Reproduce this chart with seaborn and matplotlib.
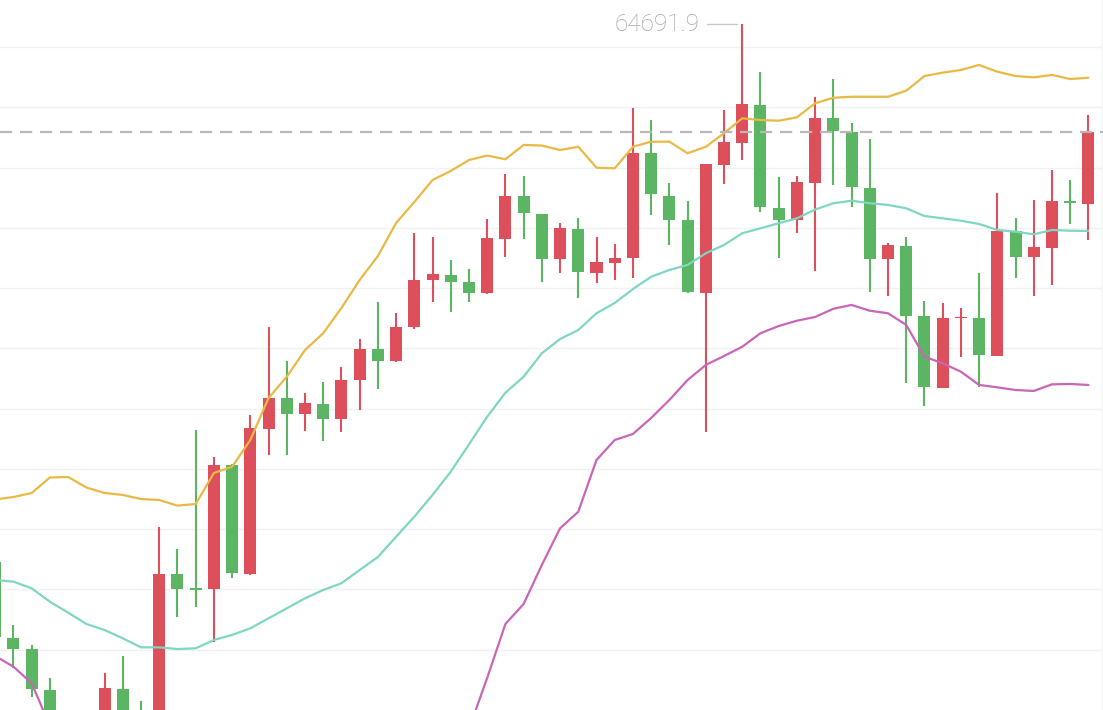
import numpy as np
import pandas as pd
import matplotlib
matplotlib.use("Agg")
import matplotlib.pyplot as plt
import seaborn as sns

# ---- candle data (price) ----
opens = [60227, 59599, 59505, 59165, 58792, 58501, 58294, 59173, 58750, 58620,
         60125, 60012, 60006, 61033, 60125, 61331, 61589, 61456, 61539, 61412,
         61738, 61995, 61893, 62175, 62568, 62610, 62549, 62458, 62908, 63265,
         63113, 62740, 62994, 62629, 62712, 62748, 63620, 63268, 63066, 62463,
         63523, 63708, 64021, 63163, 63066, 63376, 63910, 63794, 63334, 62742,
         62853, 62269, 61674, 62250, 62255, 61940, 62975, 62756, 62831, 63220,
         63199]
closes = [59605, 59505, 59173, 58792, 58501, 58294, 59182, 58750, 58620, 60128,
          60003, 59999, 61035, 60136, 61340, 61589, 61456, 61547, 61414, 61738,
          61995, 61898, 62180, 62568, 62615, 62554, 62463, 62914, 63268, 63122,
          62742, 63000, 62634, 62715, 62748, 63618, 63279, 63066, 62466, 63528,
          63711, 64026, 63171, 63066, 63379, 63913, 63805, 63337, 62742, 62859,
          62273, 61682, 62255, 62263, 61946, 62975, 62761, 62839, 63226, 63205,
          63799]
highs = [60286, 59705, 59539, 59265, 58958, 58875, 59306, 59447, 59074, 60518,
         60335, 61323, 61101, 61040, 61448, 62180, 61898, 61633, 61724, 61848,
         62078, 62388, 62294, 62956, 62927, 62734, 62657, 63072, 63448, 63431,
         63118, 63039, 63080, 62922, 62864, 63993, 63896, 63371, 63226, 63532,
         63979, 64691.9, 64297, 63425, 63431, 64089, 64234, 63869, 63736, 62873,
         62921, 62396, 62375, 62333, 62624, 63288, 63085, 63232, 63481, 63398,
         63938]
lows = [59538, 59348, 59107, 58667, 58335, 58169, 58252, 58667, 58560, 58580,
        59771, 59854, 59566, 60095, 60120, 61116, 61116, 61315, 61234, 61309,
        61489, 61661, 61888, 62161, 62383, 62305, 62388, 62452, 62756, 62906,
        62554, 62629, 62416, 62541, 62568, 62587, 63108, 62859, 62462, 61304,
        63362, 63564, 63130, 62753, 62961, 62645, 63357, 63176, 62471, 62435,
        61716, 61522, 61670, 61931, 61677, 61936, 62587, 62435, 62527, 63033,
        62900]

# ---- Bollinger bands ----
upper = [60746, 60767, 60800, 60929, 60933, 60846, 60800, 60784, 60750, 60742,
         60695, 60709, 60966, 61018, 61240, 61589, 61765, 61987, 62126, 62336,
         62568, 62767, 63041, 63215, 63398, 63473, 63564, 63601, 63570, 63689,
         63684, 63647, 63674, 63500, 63495, 63674, 63716, 63716, 63620, 63674,
         63786, 63910, 63896, 63890, 63918, 64035, 64081, 64089, 64089, 64089,
         64139, 64261, 64289, 64311, 64353, 64297, 64261, 64250, 64270, 64236,
         64247]
middle = [60078, 60064, 60009, 59898, 59807, 59713, 59663, 59594, 59519, 59519,
          59505, 59511, 59580, 59622, 59677, 59760, 59843, 59926, 59995, 60051,
          60161, 60269, 60437, 60603, 60784, 60977, 61203, 61433, 61633, 61765,
          61960, 62078, 62153, 62292, 62377, 62493, 62595, 62651, 62693, 62790,
          62859, 62956, 62997, 63039, 63080, 63153, 63205, 63226, 63205, 63191,
          63163, 63099, 63080, 63060, 63033, 62983, 62969, 62947, 62983, 62977,
          62975]
lower = [59447, 59358, 59221, 58866, 58684, 58580, 58526, 58405, 58289, 58297,
         58316, 58313, 58194, 58225, 58114, 57932, 57920, 57865, 57864, 57766,
         57754, 57771, 57834, 57991, 58169, 58481, 58841, 59265, 59713, 59879,
         60203, 60507, 60645, 61074, 61240, 61290, 61423, 61572, 61738, 61863,
         61937, 62014, 62126, 62186, 62230, 62261, 62329, 62361, 62313, 62292,
         62195, 61931, 61877, 61807, 61697, 61677, 61655, 61647, 61702, 61705,
         61697]

grid_levels = [59500, 60000, 60500, 61000, 61500, 62000, 62500, 63000, 63500, 64000, 64500]
peak_label = "64691.9"

UP = "#dc4f5b"
DOWN = "#5bb562"

sns.set_theme(style="white")
plt.rcParams['font.family'] = ['Roboto', 'DejaVu Sans']

fig = plt.figure(figsize=(11.03, 7.10), dpi=100)
ax = fig.add_axes([0, 0, 1, 1])

idx = np.arange(len(opens))
o = np.array(opens, float)
c = np.array(closes, float)
h = np.array(highs, float)
l = np.array(lows, float)
cols = [UP if cc >= oo else DOWN for oo, cc in zip(o, c)]

# grid
for g in grid_levels:
    ax.axhline(g, color="#f1f1f1", lw=1.0, zorder=0)
ax.axvline(60.75, color="#f1f1f1", lw=1.0, zorder=0)

# wicks and bodies
ax.vlines(idx, l, h, colors=cols, lw=1.5, zorder=2)
body_bottom = np.minimum(o, c)
body_h = np.maximum(np.abs(c - o), 14)
ax.bar(idx, body_h, bottom=body_bottom, width=0.66, color=cols, linewidth=0, zorder=2)

# bands via seaborn
bands = pd.DataFrame({
    "i": np.tile(idx, 3),
    "value": np.concatenate([upper, middle, lower]),
    "band": ["upper"] * len(idx) + ["middle"] * len(idx) + ["lower"] * len(idx),
})
sns.lineplot(data=bands, x="i", y="value", hue="band",
             palette={"upper": "#e9b944", "middle": "#7fd6c2", "lower": "#c866b8"},
             linewidth=1.6, legend=False, ax=ax, zorder=3)

# last price dashed line
ax.axhline(closes[-1], color="#b8b8b8", lw=1.6, dashes=(5.5, 3.5), zorder=4)

# peak annotation
pk = int(np.argmax(h))
ax.plot([pk - 1.96, pk - 0.31], [h[pk], h[pk]], color="#c8c8c8", lw=1.0, zorder=4)
ax.text(pk - 2.38, h[pk], peak_label, ha="right", va="center",
        fontsize=17.5, color="#a5a5a5", fontweight="light", zorder=5)

ax.set_xlim(0.26, 60.8)
ax.set_ylim(58999, 64892)
ax.set_xticks([])
ax.set_yticks([])
for s in ax.spines.values():
    s.set_visible(False)
ax.set_xlabel("")
ax.set_ylabel("")

fig.savefig("out.png", dpi=100)
